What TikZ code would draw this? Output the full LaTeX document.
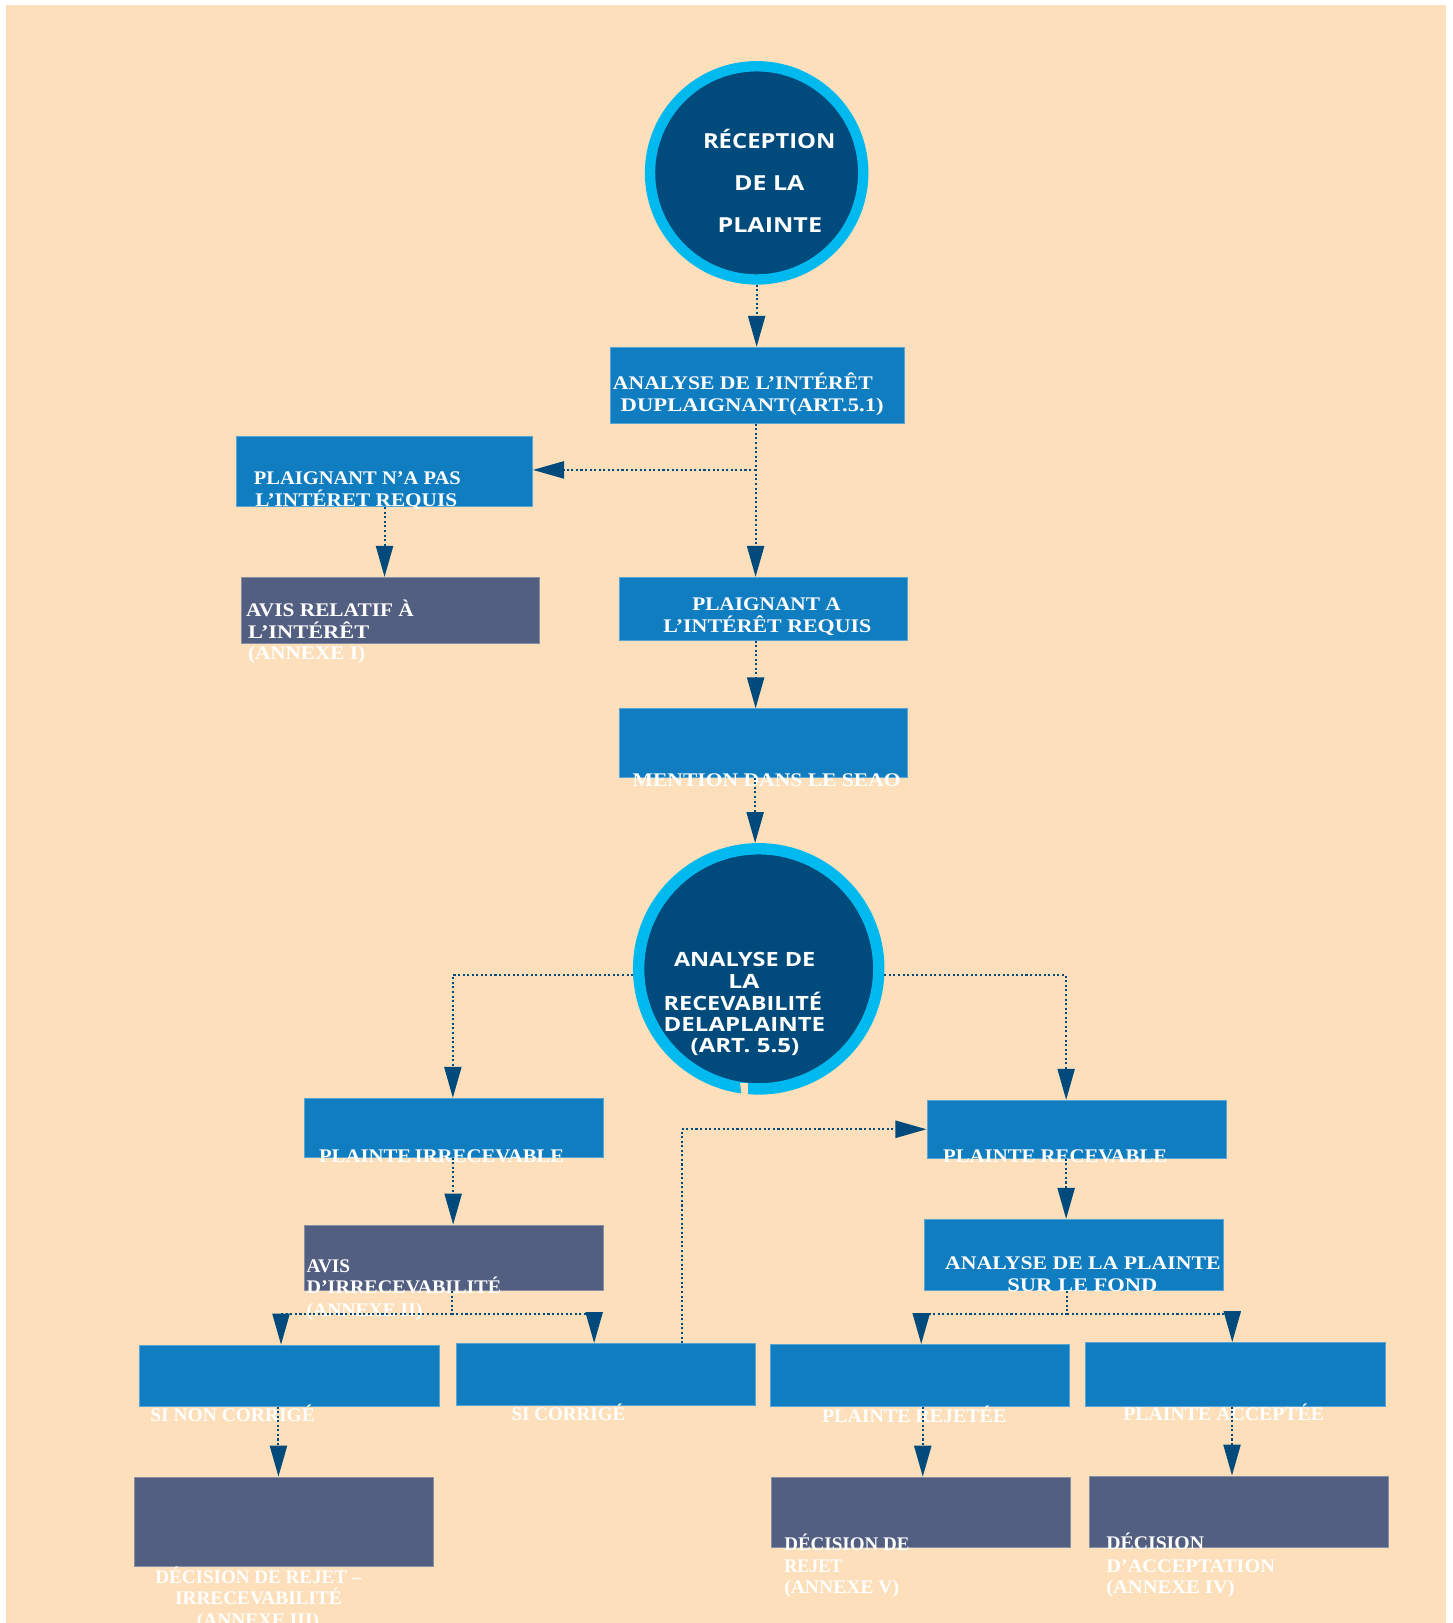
\documentclass[tikz,border=0pt]{standalone}
\usepackage{fontspec}
\setmainfont{Liberation Serif}
\newfontfamily\circfont{Open Sans}
\usepackage{graphicx}
\usetikzlibrary{arrows.meta}
\definecolor{peach}{RGB}{253,224,187}
\definecolor{ringc}{RGB}{0,185,239}
\definecolor{darkc}{RGB}{0,74,124}
\definecolor{boxblue}{RGB}{17,125,193}
\definecolor{boxgray}{RGB}{83,95,128}
\newcommand{\wfit}[2]{\resizebox{#1pt}{\height}{#2}}
\begin{document}
\begin{tikzpicture}[x=1pt,y=-1pt,
  bluebox/.style={rectangle, fill=boxblue, draw=boxblue!70!white, line width=0.8pt, inner sep=0pt},
  graybox/.style={rectangle, fill=boxgray, draw=boxgray!70!white, line width=0.8pt, inner sep=0pt},
  tx/.style={text=white, inner sep=0pt, anchor=base west, font=\fontsize{18.6}{22}\selectfont\bfseries},
  ctxa/.style={text=white, inner sep=0pt, anchor=base west, font=\circfont\fontsize{20}{24}\selectfont\bfseries},
  ctxb/.style={text=white, inner sep=0pt, anchor=base west, font=\circfont\fontsize{19}{22}\selectfont\bfseries},
  dotl/.style={draw=darkc, line width=2pt, dash pattern=on 2pt off 2.4pt},
  conn/.style={dotl, -{Triangle[length=30pt,width=16.5pt]}}]
\useasboundingbox (0,0) rectangle (1403,1568);
\fill[white] (0,0) rectangle (1403,1568);
\fill[peach] (5.8,4.8) rectangle (1397.2,1568);

% circles
\node[circle, fill=darkc, draw=ringc, line width=10pt, minimum size=206pt, inner sep=0pt] (c1) at (731,167) {};
\node[circle, fill=darkc, draw=ringc, line width=11pt, minimum size=232pt, inner sep=0pt] (c2) at (733,936) {};
\fill[peach] (715,1046.5) -- (722.5,1046.5) -- (722.5,1058.5) -- (716.5,1058.5) -- cycle;

% boxes
\node[bluebox, minimum width=283.5, minimum height=73.5] (b1) at (731.75,372.25) {};
\node[bluebox, minimum width=286, minimum height=67.6] (b2) at (371.5,455.8) {};
\node[graybox, minimum width=288.5, minimum height=63.8] (b4) at (377.15,589.7) {};
\node[bluebox, minimum width=278.3, minimum height=60.6] (b3) at (737.75,588.1) {};
\node[bluebox, minimum width=278.3, minimum height=66.2] (b5) at (737.55,717.9) {};
\node[bluebox, minimum width=289, minimum height=57] (b6) at (438.5,1089.5) {};
\node[graybox, minimum width=289, minimum height=63.5] (b8) at (438.5,1215.25) {};
\node[bluebox, minimum width=289.6, minimum height=59] (b9) at (279.8,1329) {};
\node[bluebox, minimum width=289, minimum height=60] (b10) at (585.5,1328) {};
\node[bluebox, minimum width=289, minimum height=56] (b7) at (1040,1091) {};
\node[bluebox, minimum width=289, minimum height=69] (b11) at (1037.5,1212.5) {};
\node[bluebox, minimum width=289, minimum height=59.5] (b12) at (888.5,1328.75) {};
\node[bluebox, minimum width=289.5, minimum height=61.5] (b13) at (1193.25,1327.75) {};
\node[graybox, minimum width=289, minimum height=86] (b14) at (274,1470) {};
\node[graybox, minimum width=289.6, minimum height=68] (b15) at (889.8,1461) {};
\node[graybox, minimum width=289, minimum height=69] (b16) at (1196.5,1460.5) {};

% circle texts
\node[ctxa] (c1a) at (679,143) {\wfit{128}{RÉCEPTION}};
\node[ctxa] (c1b) at (709,184.5) {\wfit{68}{DE LA}};
\node[ctxa] (c1c) at (693,225) {\wfit{101}{PLAINTE}};
\node[ctxb] (c2a) at (651,934) {\wfit{136.5}{ANALYSE DE}};
\node[ctxb] (c2b) at (703.5,955) {\wfit{30}{LA}};
\node[ctxb] (c2c) at (641,976) {\wfit{153}{RECEVABILITÉ}};
\node[ctxb] (c2d) at (641,996.5) {\wfit{156}{DELAPLAINTE}};
\node[ctxb] (c2e) at (667,1017) {\wfit{105}{(ART. 5.5)}};

% box texts
\node[tx] (t1a) at (592,376) {\wfit{251}{ANALYSE DE L’INTÉRÊT}};
\node[tx] (t1b) at (599.5,398) {\wfit{254}{DUPLAIGNANT(ART.5.1)}};
\node[tx] (t2a) at (245,468) {\wfit{200}{PLAIGNANT N’A PAS}};
\node[tx] (t2b) at (246.5,489) {\wfit{195}{L’INTÉRET REQUIS}};
\node[tx] (t4a) at (237.7,596) {\wfit{162}{AVIS RELATIF À}};
\node[tx] (t4b) at (239.5,617) {\wfit{117}{L’INTÉRÊT}};
\node[tx] (t4c) at (239.5,637) {\wfit{113}{(ANNEXE I)}};
\node[tx] (t3a) at (668.6,589.5) {\wfit{143.5}{PLAIGNANT A}};
\node[tx] (t3b) at (640.6,611) {\wfit{201}{L’INTÉRÊT REQUIS}};
\node[tx] (t5) at (611,760) {\wfit{259}{MENTION DANS LE SEAO}};
\node[tx] (t6) at (308,1123) {\wfit{237}{PLAINTE\hspace{3pt}IRRECEVABLE}};
\node[tx] (t8a) at (296,1229) {\wfit{42}{AVIS}};
\node[tx] (t8b) at (296,1249.5) {\wfit{188}{D’IRRECEVABILITÉ}};
\node[tx] (t8c) at (296,1271.5) {\wfit{112}{(ANNEXE II)}};
\node[tx] (t7) at (911,1123.5) {\wfit{216.5}{PLAINTE RECEVABLE}};
\node[tx] (t11a) at (913,1226.5) {\wfit{266}{ANALYSE DE LA PLAINTE}};
\node[tx] (t11b) at (973,1248) {\wfit{145}{SUR LE FOND}};
\node[tx] (t9) at (145,1373.5) {\wfit{159}{SI NON CORRIGÉ}};
\node[tx] (t10) at (494,1372.7) {\wfit{110}{SI CORRIGÉ}};
\node[tx] (t12) at (794,1374) {\wfit{178}{PLAINTE REJETÉE}};
\node[tx] (t13) at (1085,1372.5) {\wfit{194}{PLAINTE ACCEPTÉE}};
\node[tx] (t14a) at (150,1529.5) {\wfit{199}{DÉCISION DE REJET –}};
\node[tx] (t14b) at (169,1550) {\wfit{161}{IRRECEVABILITÉ}};
\node[tx] (t14c) at (190,1571) {\wfit{118}{(ANNEXE III)}};
\node[tx] (t15a) at (757.5,1497.6) {\wfit{121}{DÉCISION DE}};
\node[tx] (t15b) at (757.5,1519) {\wfit{56}{REJET}};
\node[tx] (t15c) at (757.5,1539.5) {\wfit{111}{(ANNEXE V)}};
\node[tx] (t16a) at (1068.6,1496.7) {\wfit{94.5}{DÉCISION}};
\node[tx] (t16b) at (1068.6,1519) {\wfit{163}{D’ACCEPTATION}};
\node[tx] (t16c) at (1068.6,1539.5) {\wfit{124}{(ANNEXE IV)}};

% connectors
\draw[conn] (c1.south) -- (c1.south |- b1.north);
\draw[conn] ([xshift=-1.75]b1.south) -- ([xshift=-1.75]b1.south |- b3.north);
\coordinate (j1) at (730,454);
\draw[conn] (j1) -- (j1 -| b2.east);
\draw[conn] (b2.south) -- (b2.south |- b4.north);
\draw[conn] ([xshift=-7.75]b3.south) -- ([xshift=-7.75]b3.south |- b5.north);
\draw[conn] ([xshift=-8]b5.south) -- ([xshift=-8]b5.south |- c2.north);
\draw[conn] (c2.183) -| ([xshift=-1]b6.north);
\draw[conn] (c2.-3) -| ([xshift=-10]b7.north);
\draw[conn] ([xshift=-0.7]b6.south) -- ([xshift=-0.7]b6.south |- b8.north);
\coordinate (j2) at (436.5,1269.5);
\draw[dotl] ([xshift=-2]b8.south) -- (j2);
\draw[conn] (j2) -| ([xshift=-8.3]b9.north);
\draw[conn] (j2) -| ([xshift=-11.5]b10.north);
\draw[conn] ([xshift=73]b10.north) |- (b7.west);
\draw[conn] ([xshift=-10]b7.south) -- ([xshift=-10]b7.south |- b11.north);
\coordinate (j3) at (1031,1269.5);
\draw[dotl] ([xshift=-6.5]b11.south) -- (j3);
\draw[conn] (j3) -| ([xshift=1.5]b12.north);
\draw[conn] (j3) -| ([xshift=-2.75]b13.north);
\draw[conn] ([xshift=-10.8]b9.south) -- ([xshift=-10.8]b9.south |- b14.north);
\draw[conn] ([xshift=3]b12.south) -- ([xshift=3]b12.south |- b15.north);
\draw[conn] ([xshift=-3]b13.south) -- ([xshift=-3]b13.south |- b16.north);
\end{tikzpicture}
\end{document}
